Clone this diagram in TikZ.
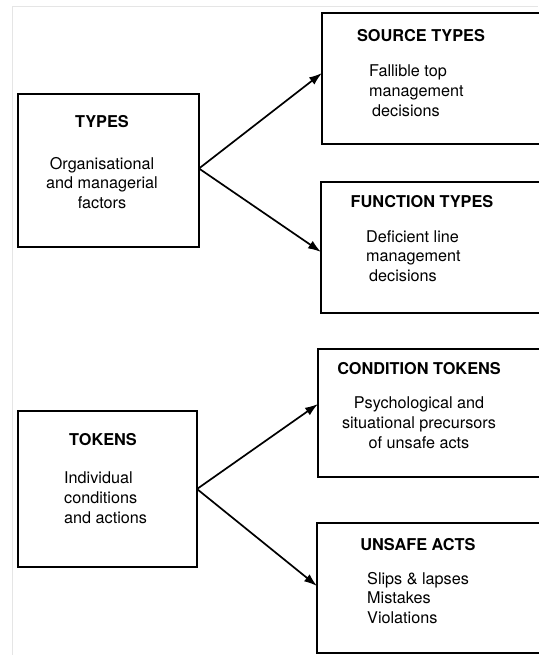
\documentclass[tikz,border=0pt]{standalone}
\usepackage{fontspec}
\setmainfont{TeX Gyre Heros}
\usetikzlibrary{arrows.meta}
\begin{document}
\begin{tikzpicture}[x=1pt,y=-1pt,
  box/.style={draw=black,line width=1.8pt,inner sep=0pt,outer sep=0pt},
  ttl/.style={font=\fontsize{16.3}{19.5}\selectfont\bfseries,inner sep=0pt},
  bod/.style={font=\fontsize{16.2}{19.8}\selectfont,inner sep=0pt},
  arr/.style={line width=1.7pt,-{Latex[length=13pt,width=9pt]}}]
\useasboundingbox (0,0) rectangle (538,655);
\fill[white] (0,0) rectangle (538,655);
\draw[black!10,line width=1pt] (12,655) -- (12,7) -- (538,7);
% boxes
\node[box,minimum width=181pt,minimum height=153pt] (types) at (108.5,170.5) {};
\node[box,minimum width=238pt,minimum height=131pt] (src) at (441,78.5) {};
\node[box,minimum width=239pt,minimum height=131pt] (fun) at (440.5,247.5) {};
\node[box,minimum width=179pt,minimum height=156pt] (tok) at (107.5,489) {};
\node[box,minimum width=242pt,minimum height=128pt] (cond) at (439,413) {};
\node[box,minimum width=243pt,minimum height=130pt] (unsafe) at (438.5,588) {};
% texts
\node[ttl] (t1) at (102,122) {TYPES};
\node[bod,align=center] (b1) at (102,183) {Organisational\\and managerial\\factors};
\node[ttl] (t2) at (421,36) {SOURCE TYPES};
\node[bod,align=left,anchor=west] (b2) at (369,91) {Fallible top\\management\\\hspace*{3pt}decisions};
\node[ttl] (t3) at (422,202) {FUNCTION TYPES};
\node[bod,align=left,anchor=west] (b3) at (366,256) {Deficient line\\management\\\hspace*{3pt}decisions};
\node[ttl] (t4) at (103,440) {TOKENS};
\node[bod,align=left,anchor=west] (b4) at (64,498) {Individual\\conditions\\and actions};
\node[ttl] (t5) at (419,369) {CONDITION TOKENS};
\node[bod,align=center] (b5) at (419,423) {Psychological and\\situational precursors\\of unsafe acts};
\node[ttl] (t6) at (418,545) {UNSAFE ACTS};
\node[bod,align=left,anchor=west] (b6) at (367,598) {Slips \& lapses\\Mistakes\\Violations};
% arrows
\draw[arr] ([yshift=2pt]types.east) -- ([yshift=5.5pt]src.west);
\draw[arr] ([yshift=2pt]types.east) -- ([yshift=-4.5pt]fun.west);
\draw[arr] (tok.east) -- ([yshift=9pt]cond.west);
\draw[arr] (tok.east) -- ([yshift=2pt]unsafe.west);
\end{tikzpicture}
\end{document}
